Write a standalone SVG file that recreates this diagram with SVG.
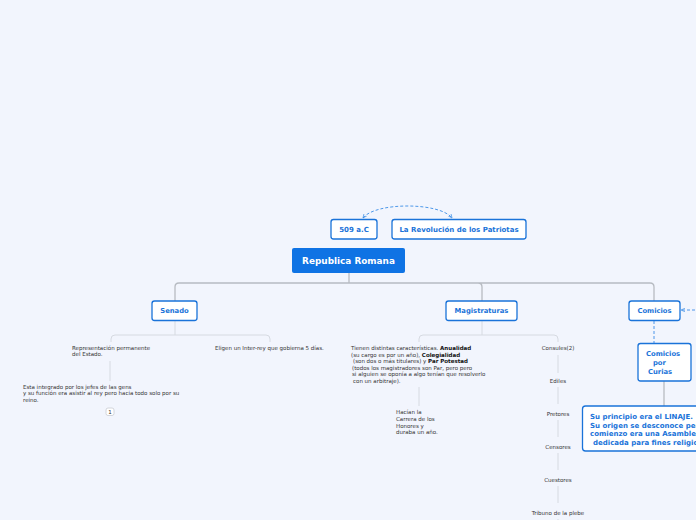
<svg xmlns="http://www.w3.org/2000/svg" width="696" height="520" viewBox="0 0 696 520">
<defs>
<style>
.bg{fill:#f2f5fd}
.box{fill:#fff;stroke:#1a73d9;stroke-width:1.3}
.bt{font-family:"DejaVu Sans",Verdana,sans-serif;font-weight:bold;fill:#1a73d9;text-anchor:middle}
.t{font-family:"DejaVu Sans",Verdana,sans-serif;font-size:5.5px;fill:#333}
.tb{font-weight:bold;fill:#111}
.c1{fill:none;stroke:#b7bbc2;stroke-width:1.3}
.c2{fill:none;stroke:#d6dae1;stroke-width:1}
.dash{fill:none;stroke:#3b8de6;stroke-width:0.9;stroke-dasharray:3,2}
</style>
<marker id="ah" viewBox="0 0 10 10" refX="9" refY="5" markerWidth="5" markerHeight="5" orient="auto-start-reverse">
<path d="M0,1 L9,5 L0,9" fill="none" stroke="#3b8de6" stroke-width="1.5"/>
</marker>
</defs>
<rect class="bg" x="0" y="0" width="696" height="520"/>
<g id="connectors">
<path class="dash" d="M363,218 C375,202 440,202 452,218" marker-start="url(#ah)" marker-end="url(#ah)"/>
<path class="c1" d="M349,273 V283 M179,283 H650 M179,283 Q175,283 175,287 V301 M478,283 Q482,283 482,287 V301 M650,283 Q654,283 654,287 V301"/>
<path class="dash" d="M700,310 H681" marker-end="url(#ah)"/>
<path class="c2" d="M175,321 V335 M115,335 H266 M115,335 Q111,335 111,339 V342 M266,335 Q270,335 270,339 V342"/>
<path class="c2" d="M110,361 V381"/>
<path class="c2" d="M482,321 V335 M423,335 H554 M423,335 Q419,335 419,339 V342 M554,335 Q558,335 558,339 V342"/>
<path class="c2" d="M419,387 V406"/>
<path class="c2" d="M558,355 V373 M558,387 V404 M558,420 V437 M558,453 V470 M558,486 V503 M558,519 V520"/>
<path class="dash" d="M654,321 V343"/>
<path class="c1" d="M664,381 V406"/>
</g>
<g id="n-top509">
<rect class="box" x="331" y="219.5" width="46" height="19.5" rx="2.5"/>
<text class="bt" x="354" y="232" font-size="7">509 a.C</text>
</g>
<g id="n-revolucion">
<rect class="box" x="392" y="219.5" width="134" height="19.5" rx="2.5"/>
<text class="bt" x="459" y="232" font-size="7">La Revolución de los Patriotas</text>
</g>
<g id="n-republica">
<rect x="292" y="248" width="113" height="25" rx="2" fill="#0f73e4"/>
<text class="bt" x="348.5" y="263.5" font-size="8.9" style="fill:#fff">Republica Romana</text>
</g>
<g id="n-senado">
<rect class="box" x="152" y="301" width="45" height="19.5" rx="2.5"/>
<text class="bt" x="174.5" y="313.3" font-size="6.8">Senado</text>
</g>
<g id="n-magistraturas">
<rect class="box" x="446" y="301" width="71" height="19.5" rx="2.5"/>
<text class="bt" x="481.5" y="313.3" font-size="6.8">Magistraturas</text>
</g>
<g id="n-comicios">
<rect class="box" x="629" y="301" width="51" height="19.5" rx="2.5"/>
<text class="bt" x="654.5" y="313.3" font-size="6.8">Comicios</text>
</g>
<g id="n-senado-rep">
<text class="t" x="72" y="350">Representación permanente</text>
<text class="t" x="72" y="356">del Estado.</text>
</g>
<g id="n-senado-inter">
<text class="t" x="215" y="350">Eligen un Inter-rey que gobierna 5 días.</text>
</g>
<g id="n-senado-gens">
<text class="t" x="23" y="388.5">Esta integrado por los jefes de las gens</text>
<text class="t" x="23" y="395">y su función era asistir al rey pero hacia todo solo por su</text>
<text class="t" x="23" y="401.5">reino.</text>
<rect x="106" y="408" width="8" height="7.5" rx="2" fill="#fff" stroke="#c9ccd2" stroke-width="0.8"/>
<text class="t" x="110" y="413.8" text-anchor="middle" font-size="4.8">1</text>
</g>
<g id="n-mag-carac">
<text class="t" x="351" y="350">Tienen distintas características. <tspan class="tb">Anualidad</tspan></text>
<text class="t" x="351" y="356.5">(su cargo es por un año), <tspan class="tb">Colegialidad</tspan></text>
<text class="t" x="353" y="363">(son dos o más titulares) y <tspan class="tb">Par Potestad</tspan></text>
<text class="t" x="352" y="369.5">(todos los magistradores son Par, pero pero</text>
<text class="t" x="352" y="376">si alguien se oponía a algo tenían que resolverlo</text>
<text class="t" x="353" y="382.5">con un arbitraje).</text>
</g>
<g id="n-mag-carrera">
<text class="t" x="396" y="414">Hacían la</text>
<text class="t" x="396" y="420.8">Carrera de los</text>
<text class="t" x="396" y="427.6">Honores y</text>
<text class="t" x="396" y="434.4">duraba un año.</text>
</g>
<g id="n-consules"><text class="t" x="558" y="350" text-anchor="middle">Consules(2)</text></g>
<g id="n-ediles"><text class="t" x="558" y="383" text-anchor="middle">Ediles</text></g>
<g id="n-pretores"><text class="t" x="558" y="416" text-anchor="middle">Pretores</text></g>
<g id="n-censores"><text class="t" x="558" y="449" text-anchor="middle">Censores</text></g>
<g id="n-cuestores"><text class="t" x="558" y="482" text-anchor="middle">Cuestores</text></g>
<g id="n-tribuno"><text class="t" x="558" y="515" text-anchor="middle">Tribuno de la plebe</text></g>
<g id="n-curias">
<rect class="box" x="638" y="343.5" width="53" height="37.5" rx="2.5"/>
<text class="bt" x="646" y="356" font-size="6.8" style="text-anchor:start">Comicios</text>
<text class="bt" x="653" y="365" font-size="6.8" style="text-anchor:start">por</text>
<text class="bt" x="648" y="373.5" font-size="6.8" style="text-anchor:start">Curias</text>
</g>
<g id="n-linaje">
<rect class="box" x="582.5" y="406" width="130" height="45" rx="3"/>
<text class="bt" x="590" y="419" font-size="7" style="text-anchor:start">Su principio era el LINAJE.</text>
<text class="bt" x="590" y="427.5" font-size="7" style="text-anchor:start">Su origen se desconoce pero su</text>
<text class="bt" x="590" y="436" font-size="7" style="text-anchor:start">comienzo era una Asamblea</text>
<text class="bt" x="593" y="444.5" font-size="7" style="text-anchor:start">dedicada para fines religiosos</text>
</g>
</svg>
